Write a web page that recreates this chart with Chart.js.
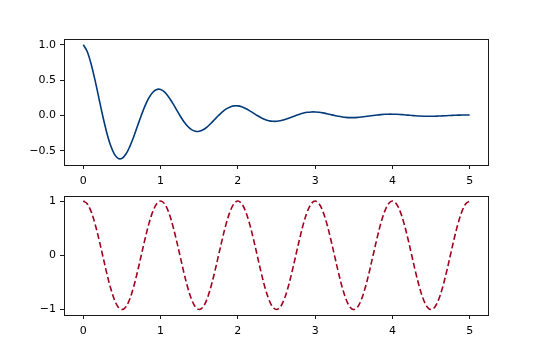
<!DOCTYPE html>
<html>
<head>
<meta charset="utf-8">
<script src="https://cdn.jsdelivr.net/npm/chart.js@4.4.0/dist/chart.umd.min.js"></script>
<style>
  html, body { margin: 0; padding: 0; background: #fff; }
  #wrap { position: relative; width: 538px; height: 355px; overflow: hidden; }
  .c { position: absolute; left: 0; }
</style>
</head>
<body>
<div id="wrap">
  <canvas id="top" class="c" width="538" height="185" style="top:0px"></canvas>
  <canvas id="bot" class="c" width="538" height="170" style="top:185px"></canvas>
</div>
<script>
// time samples (x)
const times = [0,0.05,0.1,0.15,0.2,0.25,0.3,0.35,0.4,0.45,0.5,0.55,0.6,0.65,0.7,0.75,0.8,0.85,0.9,0.95,
  1,1.05,1.1,1.15,1.2,1.25,1.3,1.35,1.4,1.45,1.5,1.55,1.6,1.65,1.7,1.75,1.8,1.85,1.9,1.95,
  2,2.05,2.1,2.15,2.2,2.25,2.3,2.35,2.4,2.45,2.5,2.55,2.6,2.65,2.7,2.75,2.8,2.85,2.9,2.95,
  3,3.05,3.1,3.15,3.2,3.25,3.3,3.35,3.4,3.45,3.5,3.55,3.6,3.65,3.7,3.75,3.8,3.85,3.9,3.95,
  4,4.05,4.1,4.15,4.2,4.25,4.3,4.35,4.4,4.45,4.5,4.55,4.6,4.65,4.7,4.75,4.8,4.85,4.9,4.95,5];

// top panel: damped oscillation
const dampedValues = [1,0.9046,0.7320,0.5061,0.2530,0,-0.2289,-0.4144,-0.5423,-0.6064,-0.6065,-0.5486,-0.4440,-0.3069,-0.1534,0,0.1388,0.2513,0.3289,0.3678,
  0.3679,0.3328,0.2693,0.1862,0.0931,0,-0.0842,-0.1525,-0.1995,-0.2231,-0.2231,-0.2018,-0.1633,-0.1129,-0.0564,0,0.0511,0.0925,0.1210,0.1353,
  0.1353,0.1224,0.0990,0.0685,0.0342,0,-0.0310,-0.0561,-0.0734,-0.0820,-0.0821,-0.0742,-0.0601,-0.0415,-0.0208,0,0.0188,0.0340,0.0445,0.0498,
  0.0498,0.0450,0.0365,0.0252,0.0126,0,-0.0114,-0.0206,-0.0270,-0.0302,-0.0302,-0.0273,-0.0221,-0.0153,-0.0076,0,0.0069,0.0125,0.0164,0.0183,
  0.0183,0.0166,0.0134,0.0093,0.0046,0,-0.0042,-0.0076,-0.0099,-0.0111,-0.0111,-0.0100,-0.0081,-0.0056,-0.0028,0,0.0025,0.0046,0.0060,0.0067,
  0.0067];

// bottom panel: undamped oscillation
const cosValues = [1,0.951,0.809,0.588,0.309,0,-0.309,-0.588,-0.809,-0.951,-1,-0.951,-0.809,-0.588,-0.309,0,0.309,0.588,0.809,0.951,
  1,0.951,0.809,0.588,0.309,0,-0.309,-0.588,-0.809,-0.951,-1,-0.951,-0.809,-0.588,-0.309,0,0.309,0.588,0.809,0.951,
  1,0.951,0.809,0.588,0.309,0,-0.309,-0.588,-0.809,-0.951,-1,-0.951,-0.809,-0.588,-0.309,0,0.309,0.588,0.809,0.951,
  1,0.951,0.809,0.588,0.309,0,-0.309,-0.588,-0.809,-0.951,-1,-0.951,-0.809,-0.588,-0.309,0,0.309,0.588,0.809,0.951,
  1,0.951,0.809,0.588,0.309,0,-0.309,-0.588,-0.809,-0.951,-1,-0.951,-0.809,-0.588,-0.309,0,0.309,0.588,0.809,0.951,
  1];

const xTicks = [0,1,2,3,4,5];
const topYTicks = [-0.5,0,0.5,1.0];
const topYLabels = ['\u22120.5','0.0','0.5','1.0'];
const botYTicks = [-1,0,1];
const botYLabels = ['\u22121','0','1'];

Chart.defaults.font.family = '"DejaVu Sans", sans-serif';
Chart.defaults.font.size = 11;
Chart.defaults.color = '#000';

const framePlugin = {
  id: 'frame',
  afterDraw(chart) {
    const a = chart.chartArea, ctx = chart.ctx;
    ctx.save();
    ctx.strokeStyle = '#1a1a1a';
    ctx.lineWidth = 1;
    ctx.strokeRect(Math.round(a.left) + 0.5, Math.round(a.top) + 0.5,
                   Math.round(a.right - a.left) - 1, Math.round(a.bottom - a.top));
    ctx.restore();
  }
};

function makeChart(id, values, color, dash, yMin, yMax, yTicks, yLabels, padTop, xAxisH) {
  const pts = times.map((t, i) => ({ x: t, y: values[i] }));
  return new Chart(document.getElementById(id), {
    type: 'line',
    data: { datasets: [{ data: pts, borderColor: color, borderWidth: 1.6, borderDash: dash,
      pointRadius: 0, fill: false, tension: 0.35 }] },
    options: {
      responsive: false, animation: false, devicePixelRatio: 1,
      layout: { padding: { left: 0, right: 49, top: padTop, bottom: 0 } },
      plugins: { legend: { display: false }, tooltip: { enabled: false } },
      scales: {
        x: {
          type: 'linear', min: -0.25, max: 5.25,
          afterBuildTicks(s) { s.ticks = xTicks.map(v => ({ value: v })); },
          afterFit(s) { s.height = xAxisH; },
          ticks: { padding: 6, maxRotation: 0, callback: v => String(v) },
          grid: { drawOnChartArea: false, drawTicks: true, tickLength: 4, color: '#1a1a1a', lineWidth: 1 },
          border: { display: false }
        },
        y: {
          type: 'linear', min: yMin, max: yMax,
          afterBuildTicks(s) { s.ticks = yTicks.map(v => ({ value: v })); },
          afterFit(s) { s.width = 64; },
          ticks: { padding: 4, callback: (v) => { const i = yTicks.indexOf(v); return i >= 0 ? yLabels[i] : ''; } },
          grid: { drawOnChartArea: false, drawTicks: true, tickLength: 4, color: '#1a1a1a', lineWidth: 1 },
          border: { display: false }
        }
      }
    },
    plugins: [framePlugin]
  });
}

makeChart('top', dampedValues, '#003a7a', [], -0.70, 1.081, topYTicks, topYLabels, 39, 20);
makeChart('bot', cosValues, '#a0001e', [6, 3], -1.1, 1.1, botYTicks, botYLabels, 5, 40);
</script>
</body>
</html>
